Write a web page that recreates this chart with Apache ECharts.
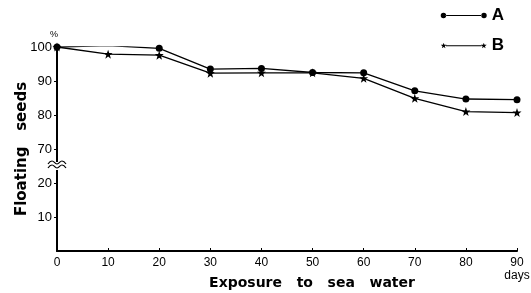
<!DOCTYPE html>
<html>
<head>
<meta charset="utf-8">
<script src="https://cdn.jsdelivr.net/npm/echarts@6/dist/echarts.min.js"></script>
<style>
  html, body { margin: 0; padding: 0; background: #fff; }
  #chart { width: 531px; height: 293px; }
</style>
</head>
<body>
<div id="chart"></div>
<script>
// days of exposure
var days = [0, 10, 20, 30, 40, 50, 60, 70, 80, 90];
// floating seeds, %
var seriesA = [100, 100.4, 99.6, 93.5, 93.7, 92.5, 92.4, 87.1, 84.7, 84.5];
var seriesB = [100, 97.9, 97.6, 92.3, 92.4, 92.4, 90.8, 84.9, 81.0, 80.7];
var yTicks = [10, 20, 70, 80, 90, 100];

var starPath = 'path://M4,0L4.94,2.706L7.804,2.764L5.522,4.494L6.351,7.236L4,5.6L1.649,7.236L2.478,4.494L0.196,2.764L3.06,2.706Z';
// symbol - line - symbol legend icons
var legendA = 'path://M0.5,4a3.5,3.5 0 1,0 7,0a3.5,3.5 0 1,0 -7,0Z M7,3.4h46v1.2h-46Z M52.5,4a3.5,3.5 0 1,0 7,0a3.5,3.5 0 1,0 -7,0Z';
var legendB = 'path://M4,0L4.94,2.706L7.804,2.764L5.522,4.494L6.351,7.236L4,5.6L1.649,7.236L2.478,4.494L0.196,2.764L3.06,2.706Z M7,3.4h46v1.2h-46Z M56,0L56.94,2.706L59.804,2.764L57.522,4.494L58.351,7.236L56,5.6L53.649,7.236L54.478,4.494L52.196,2.764L55.06,2.706Z';

function pairs(ys) {
  return days.map(function (d, i) { return [d, ys[i]]; });
}

var font = '"Liberation Sans", Arial, sans-serif';
var titleFont = '"DejaVu Sans", sans-serif';
var chart = echarts.init(document.getElementById('chart'));

var option = {
  animation: false,
  textStyle: { fontFamily: font, color: '#000' },
  title: {
    text: '%',
    left: 45,
    top: 25,
    textStyle: { fontSize: 9, fontWeight: 'normal', color: '#000', fontFamily: font }
  },
  legend: {
    orient: 'vertical',
    right: 22,
    top: 2,
    itemGap: 13,
    itemWidth: 46,
    itemHeight: 7,
    selectedMode: false,
    textStyle: { fontSize: 17, fontWeight: 'bold', color: '#000', fontFamily: font },
    data: [
      { name: 'A', icon: legendA },
      { name: 'B', icon: legendB }
    ]
  },
  grid: { left: 57, right: 14, top: 47, bottom: 42, outerBoundsMode: 'none' },
  xAxis: {
    type: 'value',
    min: 0,
    max: 90,
    interval: 10,
    name: 'Exposure   to   sea   water',
    nameLocation: 'middle',
    nameGap: 25,
    nameMoveOverlap: false,
    nameTextStyle: {
      fontSize: 14, fontWeight: 'bold', color: '#000', fontFamily: titleFont,
      padding: [0, 0, 0, 50]
    },
    axisLine: { lineStyle: { color: '#000', width: 2 } },
    axisTick: { inside: true, length: 3, lineStyle: { color: '#000', width: 1 } },
    axisLabel: {
      fontSize: 12,
      color: '#000',
      margin: 5,
      lineHeight: 13,
      formatter: function (v) { return v === 90 ? '90\ndays' : String(v); }
    },
    splitLine: { show: false }
  },
  yAxis: {
    type: 'value',
    min: 0,
    max: 100,
    interval: 10,
    breaks: [{ start: 25, end: 65, gap: 0 }],
    breakArea: { show: false },
    name: 'Floating   seeds',
    nameLocation: 'middle',
    nameGap: 27,
    nameMoveOverlap: false,
    nameTextStyle: { fontSize: 15, fontWeight: 'bold', color: '#000', fontFamily: titleFont },
    axisLine: { show: true, lineStyle: { color: '#000', width: 2 } },
    axisTick: {
      show: true, length: 3, lineStyle: { color: '#000', width: 1 },
      customValues: yTicks
    },
    axisLabel: {
      fontSize: 13,
      color: '#000',
      margin: 5,
      customValues: yTicks
    },
    splitLine: { show: false }
  },
  series: [
    {
      name: 'A',
      type: 'line',
      data: pairs(seriesA),
      symbol: 'circle',
      symbolSize: 7,
      itemStyle: { color: '#000' },
      lineStyle: { color: '#000', width: 1.3 }
    },
    {
      name: 'B',
      type: 'line',
      data: pairs(seriesB),
      symbol: starPath,
      symbolSize: 9,
      itemStyle: { color: '#000' },
      lineStyle: { color: '#000', width: 1.3 }
    }
  ]
};

chart.setOption(option);

// wavy break mark on the y axis
var bx = chart.convertToPixel({ gridIndex: 0 }, [0, 25]);
var cx = bx[0], cy = bx[1];
chart.setOption({
  graphic: [
    { type: 'rect', shape: { x: cx - 3, y: cy - 4, width: 6, height: 8 }, style: { fill: '#fff' }, z: 100 },
    {
      type: 'polyline', z: 101,
      shape: { points: [[cx - 9, cy - 2], [cx - 5, cy - 5], [cx, cy - 2], [cx + 5, cy - 5], [cx + 9, cy - 2]], smooth: 0.5 },
      style: { stroke: '#000', lineWidth: 1.2, fill: null }
    },
    {
      type: 'polyline', z: 101,
      shape: { points: [[cx - 9, cy + 2], [cx - 5, cy - 1], [cx, cy + 2], [cx + 5, cy - 1], [cx + 9, cy + 2]], smooth: 0.5 },
      style: { stroke: '#000', lineWidth: 1.2, fill: null }
    }
  ]
});
</script>
</body>
</html>
